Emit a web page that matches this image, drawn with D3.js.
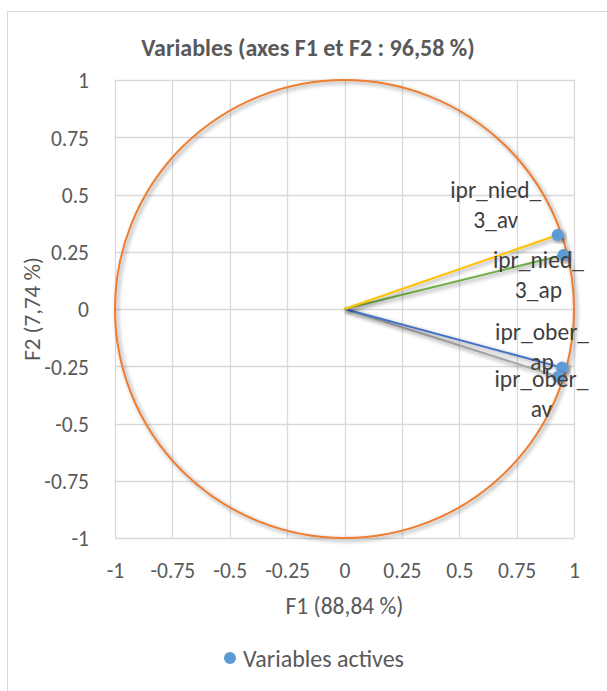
<!DOCTYPE html>
<html><head><meta charset="utf-8">
<script src="https://cdn.jsdelivr.net/npm/d3@7"></script>
<style>
html,body{margin:0;padding:0;background:#fff;}
svg{display:block;font-family:Calibri,Carlito,"Open Sans","Noto Sans",sans-serif;}
</style></head>
<body>
<script>
// ---- data ----
const variables = ["ipr_nied_3_av", "ipr_nied_3_ap", "ipr_ober_ap", "ipr_ober_av"];
const labelLines = [["ipr_nied_", "3_av"], ["ipr_nied_", "3_ap"], ["ipr_ober_", "ap"], ["ipr_ober_", "av"]];
const f1Values = [0.929, 0.954, 0.948, 0.932];
const f2Values = [0.323, 0.236, -0.256, -0.296];
const lineColors = ["#FFC000", "#70AD47", "#4472C4", "#A5A5A5"];
const tickValues = [-1, -0.75, -0.5, -0.25, 0, 0.25, 0.5, 0.75, 1];
const titleText = "Variables (axes F1 et F2 : 96,58 %)";
const xTitle = "F1 (88,84 %)";
const yTitle = "F2 (7,74 %)";
const legendText = "Variables actives";

// ---- layout ----
const W = 607, H = 691;
const pLeft = 115, pRight = 574, pTop = 80, pBottom = 538;
// label placement: [dx of centre, dy of first line centre] relative to point
const labelOffsets = [[-62, -45], [-25, 5], [-20, -36], [-17, 2]];
const lineGap = 30;
const FF = "Calibri,Carlito,'Open Sans','Noto Sans',sans-serif";

const svg = d3.select("body").append("svg").attr("width", W).attr("height", H);
const defs = svg.append("defs");
const f = defs.append("filter").attr("id", "sh").attr("x", "-20%").attr("y", "-20%").attr("width", "140%").attr("height", "140%");
f.append("feGaussianBlur").attr("in", "SourceAlpha").attr("stdDeviation", 2.2).attr("result", "b");
f.append("feOffset").attr("in", "b").attr("dx", 1.5).attr("dy", 1.5).attr("result", "o");
f.append("feComponentTransfer").attr("in", "o").attr("result", "o2")
  .append("feFuncA").attr("type", "linear").attr("slope", 0.45);
const m = f.append("feMerge");
m.append("feMergeNode").attr("in", "o2");
m.append("feMergeNode").attr("in", "SourceGraphic");

svg.append("rect").attr("x", 7.5).attr("y", 11.5).attr("width", 620).attr("height", 700)
  .attr("fill", "#fff").attr("stroke", "#d9d9d9").attr("stroke-width", 1);

const x = d3.scaleLinear().domain([-1, 1]).range([pLeft, pRight]);
const y = d3.scaleLinear().domain([-1, 1]).range([pBottom, pTop]);

// grid
const g = svg.append("g");
g.selectAll("line.v").data(tickValues).join("line")
  .attr("x1", d => Math.round(x(d)) + 0.5).attr("x2", d => Math.round(x(d)) + 0.5)
  .attr("y1", y(1)).attr("y2", y(-1))
  .attr("stroke", "#d9d9d9").attr("stroke-width", 1.3);
g.selectAll("line.h").data(tickValues).join("line")
  .attr("y1", d => Math.round(y(d)) + 0.5).attr("y2", d => Math.round(y(d)) + 0.5)
  .attr("x1", x(-1)).attr("x2", x(1))
  .attr("stroke", "#d9d9d9").attr("stroke-width", 1.3);

const xAxis = d3.axisBottom(x).tickValues(tickValues).tickSize(0).tickPadding(0)
  .tickFormat(d => String(d));
const xa = svg.append("g").attr("transform", `translate(0,${pBottom + 40})`).call(xAxis);
xa.select(".domain").remove();
xa.selectAll("text").attr("fill", "#595959").attr("font-size", "21.5px")
  .attr("font-family", FF).attr("dy", 0);

const yAxis = d3.axisLeft(y).tickValues(tickValues).tickSize(0).tickPadding(0)
  .tickFormat(d => String(d));
const ya = svg.append("g").attr("transform", `translate(89,0)`).call(yAxis);
ya.select(".domain").remove();
ya.selectAll("text").attr("fill", "#595959").attr("font-size", "21.5px")
  .attr("font-family", FF).attr("dy", "0.36em");

// circle
svg.append("ellipse").attr("cx", x(0)).attr("cy", y(0))
  .attr("rx", x(1) - x(0)).attr("ry", y(0) - y(1))
  .attr("fill", "none").attr("stroke", "#ED7D31").attr("stroke-width", 2)
  .attr("filter", "url(#sh)");

// vectors
const pts = variables.map((v, i) => ({ name: v, fx: f1Values[i], fy: f2Values[i], c: lineColors[i], lines: labelLines[i], off: labelOffsets[i] }));
const order = [3, 2, 1, 0];
svg.append("g").selectAll("line").data(order.map(i => pts[i])).join("line")
  .attr("x1", x(0)).attr("y1", y(0))
  .attr("x2", d => x(d.fx)).attr("y2", d => y(d.fy))
  .attr("stroke", d => d.c).attr("stroke-width", 2)
  .attr("filter", "url(#sh)");

// points
svg.append("g").selectAll("circle").data(pts).join("circle")
  .attr("cx", d => x(d.fx)).attr("cy", d => y(d.fy)).attr("r", 6)
  .attr("fill", "#5B9BD5").attr("filter", "url(#sh)");

// labels
const lab = svg.append("g").selectAll("text").data(pts).join("text")
  .attr("text-anchor", "middle").attr("fill", "#404040").attr("font-size", "23.5px");
lab.each(function (d) {
  const t = d3.select(this);
  d.lines.forEach((l, k) => {
    t.append("tspan").attr("x", x(d.fx) + d.off[0])
      .attr("y", y(d.fy) + d.off[1] + k * lineGap).attr("dy", "0.36em").text(l);
  });
});

// title
svg.append("text").attr("x", 308).attr("y", 47).attr("dy", "0.36em").attr("text-anchor", "middle")
  .attr("font-size", "24px").attr("font-weight", "bold").attr("fill", "#595959").text(titleText);

// axis titles
svg.append("text").attr("x", x(0)).attr("y", 606).attr("dy", "0.36em").attr("text-anchor", "middle")
  .attr("font-size", "23.5px").attr("fill", "#595959").text(xTitle);
svg.append("text").attr("transform", `translate(32,${y(0)}) rotate(-90)`).attr("dy", "0.36em").attr("text-anchor", "middle")
  .attr("font-size", "23px").attr("fill", "#595959").text(yTitle);

// legend
svg.append("circle").attr("cx", 230).attr("cy", 658).attr("r", 6).attr("fill", "#5B9BD5");
svg.append("text").attr("x", 243).attr("y", 658).attr("dy", "0.36em").attr("font-size", "24px").attr("fill", "#595959").text(legendText);
</script>
</body></html>
